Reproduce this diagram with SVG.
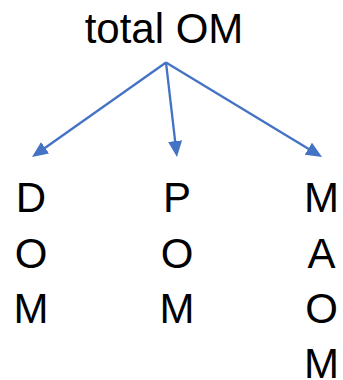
<svg xmlns="http://www.w3.org/2000/svg" width="343" height="380" viewBox="0 0 343 380">
<style>
text{font-family:"Liberation Sans",Arial,sans-serif;font-size:42px;fill:#000;text-anchor:middle}
.c line{stroke:#4472C4;stroke-width:2.3;fill:none}
</style>
<defs>
<marker id="ah" markerUnits="userSpaceOnUse" markerWidth="16" markerHeight="14" refX="12" refY="7" orient="auto">
<path d="M0,0 L16,7 L0,14 z" fill="#4472C4"/>
</marker>
</defs>
<rect width="343" height="380" fill="#fff"/>
<g id="total"><text x="164" y="43">total OM</text></g>
<g class="c" id="connectors">
<line x1="166" y1="62.5" x2="35.3" y2="154.7" marker-end="url(#ah)"/>
<line x1="166" y1="62.5" x2="176.5" y2="153" marker-end="url(#ah)"/>
<line x1="166" y1="62.5" x2="318.6" y2="154.9" marker-end="url(#ah)"/>
</g>
<g id="dom"><text x="31" y="212">D</text><text x="31" y="267.5">O</text><text x="31" y="323">M</text></g>
<g id="pom"><text x="177" y="212">P</text><text x="177" y="267.5">O</text><text x="177" y="323">M</text></g>
<g id="maom"><text x="321.5" y="212">M</text><text x="321.5" y="267.5">A</text><text x="321.5" y="323">O</text><text x="321.5" y="378">M</text></g>
</svg>
